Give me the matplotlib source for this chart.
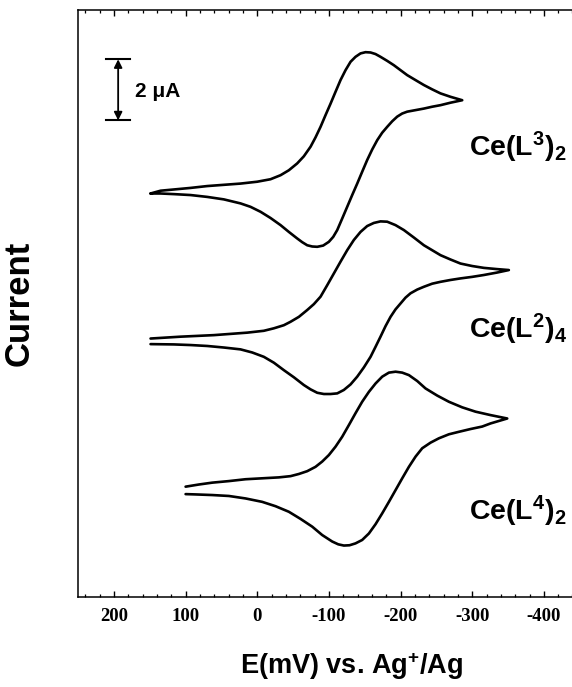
import matplotlib
matplotlib.use("Agg")
import matplotlib.pyplot as plt
from matplotlib.ticker import MultipleLocator, FormatStrFormatter

plt.rcParams['axes.unicode_minus'] = False
plt.rcParams['mathtext.fontset'] = 'custom'
plt.rcParams['mathtext.rm'] = 'Liberation Sans:bold'
plt.rcParams['mathtext.bf'] = 'Liberation Sans:bold'
plt.rcParams['mathtext.default'] = 'rm'

# cyclic voltammograms, E in mV, currents in uA (stacked for display)
# Ce(L3)2
e_l3 = [148.8, 134.8, 116.2, 93.0, 69.7, 46.5, 23.2, 0.0, -18.6, -32.6,
        -44.2, -55.8, -65.1, -74.5, -81.4, -88.4, -95.4, -102.4, -109.3, -116.3,
        -123.3, -130.3, -137.2, -144.2, -151.2, -158.2, -165.1, -172.1, -181.4, -190.7,
        -200.0, -209.3, -220.9, -232.6, -244.2, -255.8, -269.8, -286.1,
        -269.8, -255.8, -244.2, -232.6, -220.9, -209.3, -202.3, -195.4, -188.4, -181.4,
        -174.4, -167.5, -160.5, -153.5, -146.5, -139.6, -132.6, -125.6, -118.6, -111.7,
        -106.1, -100.0, -92.1, -83.8, -76.8, -69.8, -62.8, -55.8, -44.2, -32.6,
        -18.6, -4.7, 9.3, 23.2, 46.5, 69.7, 93.0, 116.2, 134.8, 148.8]
i_l3 = [13.02, 13.11, 13.15, 13.20, 13.26, 13.30, 13.34, 13.40, 13.48, 13.61,
        13.77, 13.99, 14.22, 14.53, 14.83, 15.17, 15.55, 15.92, 16.30, 16.68,
        17.00, 17.27, 17.43, 17.54, 17.58, 17.57, 17.52, 17.43, 17.30, 17.16,
        17.00, 16.84, 16.68, 16.52, 16.38, 16.25, 16.14, 16.03,
        15.95, 15.87, 15.82, 15.76, 15.71, 15.66, 15.60, 15.50, 15.35, 15.17,
        14.98, 14.74, 14.44, 14.10, 13.72, 13.34, 12.97, 12.59, 12.21, 11.84,
        11.62, 11.46, 11.34, 11.30, 11.31, 11.35, 11.45, 11.57, 11.78, 12.00,
        12.23, 12.43, 12.59, 12.70, 12.83, 12.91, 12.97, 13.00, 13.02, 13.02]

# Ce(L2)4
e_l2 = [148.8, 106.9, 60.4, 13.9, -9.3, -23.3, -37.2, -46.5, -58.2, -69.8,
        -79.1, -88.4, -97.7, -107.0, -116.3, -125.6, -134.9, -144.2, -153.5, -162.8,
        -172.1, -181.4, -193.0, -204.7, -218.6, -232.6, -244.2, -255.8, -269.8, -283.7,
        -300.0, -316.3, -334.9, -351.2,
        -334.9, -316.3, -300.0, -283.7, -269.8, -255.8, -244.2, -232.6, -223.3, -214.0,
        -207.0, -200.0, -193.0, -186.1, -179.1, -172.1, -165.1, -158.2, -148.9, -139.6,
        -130.3, -120.9, -111.7, -102.4, -93.1, -83.8, -74.5, -65.1, -51.2, -37.2,
        -23.3, -9.3, 6.9, 23.2, 46.5, 69.7, 93.0, 116.2, 148.8]
i_l2 = [8.34, 8.40, 8.45, 8.53, 8.59, 8.67, 8.77, 8.88, 9.04, 9.26,
        9.45, 9.69, 10.06, 10.44, 10.82, 11.19, 11.52, 11.78, 11.97, 12.07,
        12.12, 12.11, 12.00, 11.84, 11.60, 11.35, 11.19, 11.03, 10.89, 10.76,
        10.68, 10.62, 10.58, 10.55,
        10.47, 10.39, 10.33, 10.28, 10.23, 10.17, 10.11, 10.01, 9.92, 9.80,
        9.66, 9.47, 9.28, 9.04, 8.74, 8.40, 8.07, 7.75, 7.41, 7.11,
        6.86, 6.68, 6.57, 6.55, 6.55, 6.59, 6.70, 6.84, 7.09, 7.32,
        7.56, 7.75, 7.89, 7.99, 8.05, 8.10, 8.13, 8.15, 8.16]

# Ce(L4)2
e_l4 = [99.9, 81.3, 62.7, 39.5, 16.2, -7.0, -30.3, -46.6, -58.2, -69.8,
        -81.4, -90.7, -100.0, -109.3, -118.6, -128.0, -137.2, -146.5, -155.9, -165.2,
        -174.5, -183.8, -193.1, -202.4, -211.7, -223.3, -234.9, -251.2, -267.5, -286.1,
        -304.7, -325.6, -348.9,
        -325.6, -314.0, -297.7, -281.4, -267.5, -253.5, -241.9, -230.3, -221.0, -211.7,
        -202.4, -193.1, -183.8, -174.5, -165.2, -155.9, -146.5, -137.2, -128.9, -121.0,
        -113.1, -104.7, -90.7, -76.8, -60.5, -44.2, -25.6, -7.0, 16.2, 39.5,
        62.7, 86.0, 99.9]
i_l4 = [3.56, 3.63, 3.69, 3.74, 3.80, 3.83, 3.86, 3.90, 3.97, 4.06,
        4.20, 4.37, 4.58, 4.85, 5.17, 5.55, 5.93, 6.30, 6.62, 6.89,
        7.11, 7.24, 7.27, 7.24, 7.16, 6.97, 6.73, 6.50, 6.30, 6.12,
        5.98, 5.87, 5.76,
        5.60, 5.50, 5.42, 5.33, 5.25, 5.12, 4.98, 4.80, 4.53, 4.20,
        3.83, 3.45, 3.07, 2.70, 2.35, 2.05, 1.84, 1.73, 1.67, 1.66,
        1.70, 1.79, 2.00, 2.27, 2.52, 2.75, 2.93, 3.07, 3.18, 3.26,
        3.29, 3.31, 3.32]

labels = [r'Ce(L$^{3}$)$_{2}$', r'Ce(L$^{2}$)$_{4}$', r'Ce(L$^{4}$)$_{2}$']
label_y = [14.5, 8.65, 2.75]

fig = plt.figure(figsize=(5.72, 6.87), dpi=100)
ax = fig.add_axes([0.1364, 0.131, 0.877, 0.8544])

for e, i in [(e_l3, i_l3), (e_l2, i_l2), (e_l4, i_l4)]:
    ax.plot(e, i, color='black', lw=1.9, solid_joinstyle='round', solid_capstyle='round')

ax.set_xlim(250, -450)
ax.set_ylim(0, 18.94)

ax.spines['right'].set_visible(False)
for s in ['left', 'top', 'bottom']:
    ax.spines[s].set_linewidth(1.1)

ax.xaxis.set_major_locator(MultipleLocator(100))
ax.xaxis.set_minor_locator(MultipleLocator(20))
ax.xaxis.set_major_formatter(FormatStrFormatter('%d'))
ax.tick_params(axis='x', which='major', direction='in', top=True, length=4.5, width=1, pad=8)
ax.tick_params(axis='x', which='minor', direction='in', top=True, length=2.2, width=0.9)
ax.set_yticks([])
for t in ax.get_xticklabels():
    t.set_fontfamily('Liberation Serif')
    t.set_fontweight('bold')
    t.set_fontsize(13.5)

ax.set_xlabel(r'E(mV) vs. Ag$^{+}$/Ag', fontfamily='Liberation Sans', fontweight='bold', fontsize=19.5)
ax.xaxis.set_label_coords(0.545, -0.09)
ax.set_ylabel('Current', fontfamily='Liberation Sans', fontweight='bold', fontsize=25)
ax.yaxis.set_label_coords(-0.085, 0.5)

for lab, y in zip(labels, label_y):
    ax.text(-296, y, lab, fontfamily='Liberation Sans', fontweight='bold', fontsize=20.5,
            ha='left', va='center')

# 2 uA scale bar
ax.annotate('', xy=(194, 17.35), xytext=(194, 15.38),
            arrowprops=dict(arrowstyle='<|-|>', color='black', lw=1.3,
                            mutation_scale=12, shrinkA=0, shrinkB=0))
ax.plot([211, 177], [17.35, 17.35], color='black', lw=1.5)
ax.plot([211, 177], [15.38, 15.38], color='black', lw=1.5)
ax.text(170, 16.32, '2 \u03bcA', fontfamily='Liberation Sans', fontweight='bold',
        fontsize=15, ha='left', va='center')

fig.savefig('out.png', dpi=100)
